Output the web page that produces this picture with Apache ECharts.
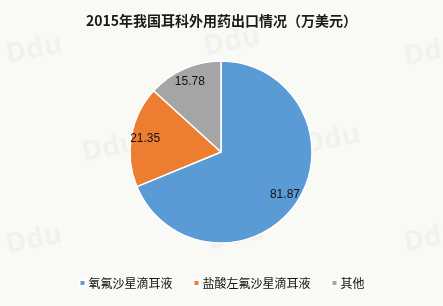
<!DOCTYPE html>
<html><head><meta charset="utf-8">
<script src="https://cdn.jsdelivr.net/npm/echarts@6/dist/echarts.min.js"></script>
<style>html,body{margin:0;padding:0;background:#F9FAF6;}#c{width:443px;height:306px;}</style>
</head><body><div id="c"></div>
<script>
var titleText = '2015年我国耳科外用药出口情况（万美元）';
var categories = ['氧氟沙星滴耳液', '盐酸左氟沙星滴耳液', '其他'];
var values = [81.87, 21.35, 15.78];
var colors = ['#5B9BD5', '#ED7D31', '#A5A5A5'];
var watermarkPos = [[34,50],[232,42],[432,52],[110,148],[332,140],[34,240],[236,236],[432,238]];

var pieData = categories.map(function(n,i){return {name:n, value:values[i], itemStyle:{color:colors[i]}};});
var wm = watermarkPos.map(function(p){
  return {type:'text', x:p[0], y:p[1], rotation:0.2, z:-10, silent:true,
    style:{text:'Ddu', x:0, y:0, align:'center', verticalAlign:'middle',
      font:'bold 28px "Open Sans"', fill:'#F1F2EF'}};
});
var chart = echarts.init(document.getElementById('c'));
chart.setOption({
  backgroundColor:'#F9FAF6',
  animation:false,
  graphic: wm,
  title:{text:titleText, left:'center', top:9,
    textStyle:{fontSize:14, fontWeight:'bold', color:'#1a1a1a', fontFamily:'"Noto Sans CJK SC"'}},
  legend:{bottom:12, left:'center', icon:'rect', itemWidth:6, itemHeight:6, itemGap:20,
    data:categories,
    textStyle:{fontSize:12, color:'#111', fontFamily:'"Noto Sans CJK SC"', padding:[0,0,0,-2]}},
  series:[
    {type:'pie', center:[221,152], radius:[0,91], startAngle:90, clockwise:true,
     label:{show:false}, labelLine:{show:false},
     itemStyle:{borderColor:'#FFFFFF', borderWidth:1.5},
     data:pieData},
    {type:'pie', center:[221,152], radius:[57,91], startAngle:90, clockwise:true,
     silent:true, legendHoverLink:false,
     label:{show:true, position:'inside', formatter:function(p){return p.value.toFixed(2);},
       fontSize:12, color:'#111', fontFamily:'"Liberation Sans"'},
     labelLine:{show:false},
     itemStyle:{color:'rgba(0,0,0,0)', borderWidth:0},
     data:categories.map(function(n,i){return {name:n+' ', value:values[i]};})}
  ]
});
</script></body></html>
